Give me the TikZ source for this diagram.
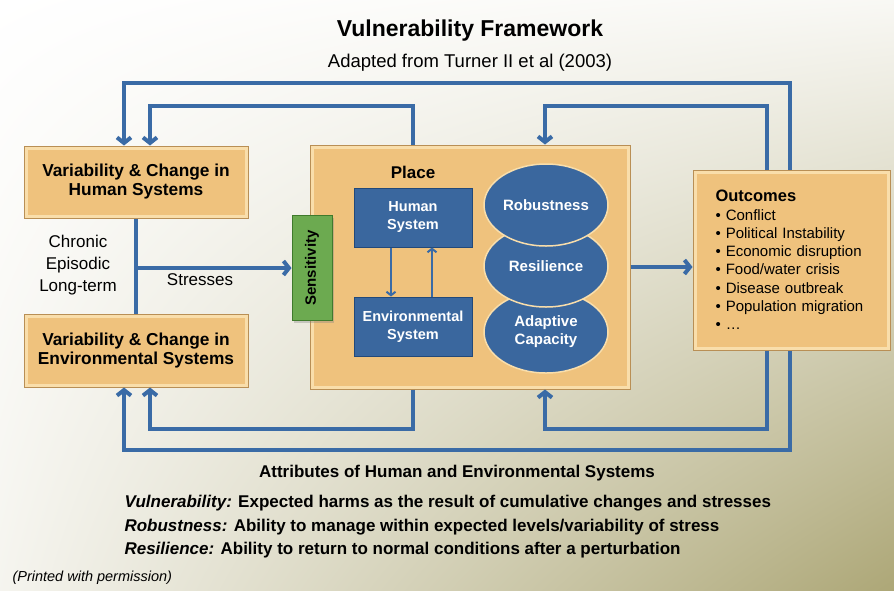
\documentclass[tikz,border=0pt]{standalone}
\usepackage{fontspec}
\setmainfont{Liberation Sans}
\usetikzlibrary{arrows.meta,shapes.geometric,shadows,shadings}

\definecolor{tanfill}{HTML}{EFC27D}
\definecolor{tanlight}{HTML}{F9DEAB}
\definecolor{tandark}{HTML}{B98F55}
\definecolor{flowblue}{HTML}{3A6BA6}
\definecolor{boxblue}{HTML}{3A679E}
\definecolor{boxedge}{HTML}{22497A}
\definecolor{sensgreen}{HTML}{6CAA50}
\definecolor{sensedge}{HTML}{3F7A2C}
\definecolor{bgolive}{HTML}{ADA777}

\begin{document}
\begin{tikzpicture}[x=1pt, y=-1pt,
    tanbox/.style={drop shadow={shadow xshift=2pt, shadow yshift=-2pt, opacity=.35},
      preaction={draw=tandark, line width=5pt},
      fill=tanfill, draw=tanlight, line width=3pt,
      outer sep=2.5pt, inner sep=0pt, align=center},
    bluebox/.style={fill=boxblue, draw=boxedge, line width=1pt, text=white,
      minimum width=118, minimum height=59, inner sep=0pt, align=center,
      font=\bfseries\fontsize{14.5}{18}\selectfont},
    oval/.style={ellipse, fill=boxblue, draw=tanlight, line width=1.5pt, text=white,
      minimum width=124, minimum height=82, inner sep=0pt, align=center,
      font=\bfseries\fontsize{15}{18}\selectfont},
    sensbox/.style={fill=sensgreen, draw=sensedge, line width=1pt,
      drop shadow={shadow xshift=2pt, shadow yshift=-2pt, opacity=.35},
      minimum width=105, minimum height=40, inner sep=0pt,
      font=\bfseries\fontsize{15}{17}\selectfont},
    flow/.style={draw=flowblue, line width=4pt},
    tip/.style={-{Straight Barb[length=5.5pt,width=14pt]}},
    thinflow/.style={draw=flowblue, line width=2pt, -{Straight Barb[length=3.5pt,width=9pt]}}]

  % background
  \shade[upper left=white, upper right=white!92!bgolive, lower left=white!88!bgolive,
    lower right=bgolive] (0,0) rectangle (894,590);
  \useasboundingbox (0,0) rectangle (894,590);

  \node[font=\bfseries\fontsize{23}{27}\selectfont] (title) at (470,31) {Vulnerability Framework};
  \node[font=\fontsize{18.5}{22}\selectfont] (source) at (470,63) {Adapted from Turner II et al (2003)};

  % left boxes
  \node[tanbox, minimum width=220, minimum height=68, font=\bfseries\fontsize{17.3}{19}\selectfont]
    (humvar) at (136,182) {Variability \& Change in\\Human Systems};
  \node[tanbox, minimum width=220, minimum height=69, font=\bfseries\fontsize{17.3}{19}\selectfont]
    (envvar) at (136,350.5) {Variability \& Change in\\Environmental Systems};
  \node[align=center, font=\fontsize{17}{22}\selectfont] (kinds) at (78,265) {Chronic\\Episodic\\Long-term};
  \node[font=\fontsize{17}{20}\selectfont] (stresses) at (200,280) {Stresses};

  % place
  \node[tanbox, minimum width=316, minimum height=240] (place) at (470,267) {};
  \node[font=\bfseries\fontsize{17}{20}\selectfont] (placelabel) at (413,172) {Place};
  \node[bluebox] (humsys) at (413,217.5) {Human\\System};
  \node[bluebox] (envsys) at (413,326.5) {Environmental\\System};
  \node[oval] (adapt) at (546,332) {Adaptive\\Capacity};
  \node[oval] (resil) at (546,266) {Resilience};
  \node[oval] (robust) at (546,205) {Robustness};
  \node[sensbox, rotate=90] (sens) at (312,268) {Sensitivity};

  % outcomes
  \node[tanbox, minimum width=193, minimum height=176, text width=152, align=left,
    font=\fontsize{15}{18.3}\selectfont] (outcomes) at (791.5,260)
    {{\bfseries\fontsize{16.5}{19}\selectfont Outcomes}\\
     • Conflict\\
     • Political Instability\\
     • Economic disruption\\
     • Food/water crisis\\
     • Disease outbreak\\
     • Population migration\\
     • …};

  % connectors
  \draw[flow] (humvar.south) -- (envvar.north);
  \draw[flow, tip] (humvar.south |- sens) -- (sens);
  \draw[flow, tip] (place.east) -- (outcomes.west |- place.east);
  \draw[thinflow] ([xshift=-22pt]humsys.south) -- ([xshift=-22pt]envsys.north);
  \draw[thinflow] ([xshift=19pt]envsys.north) -- ([xshift=19pt]humsys.south);

  % feedback loops
  \draw[flow, tip] ([xshift=-1.5pt]outcomes.north) -- ++(0,-86.5) -| ([xshift=-12pt]humvar.north);
  \draw[flow, tip] ([xshift=-24.5pt]outcomes.north) -- ++(0,-63.5) -| ([xshift=75pt]place.north);
  \draw[flow, tip] ([xshift=-57pt]place.north) -- ++(0,-38.5) -| ([xshift=14pt]humvar.north);
  \draw[flow, tip] ([xshift=-1.5pt]outcomes.south) -- ++(0,99.5) -| ([xshift=-12pt]envvar.south);
  \draw[flow, tip] ([xshift=-24.5pt]outcomes.south) -- ++(0,78.5) -| ([xshift=75pt]place.south);
  \draw[flow, tip] ([xshift=-57pt]place.south) -- ++(0,39.5) -| ([xshift=14pt]envvar.south);

  % definitions
  \node[font=\bfseries\fontsize{17}{20}\selectfont] (attrs) at (457,473)
    {Attributes of Human and Environmental Systems};
  \node[anchor=west, font=\bfseries\fontsize{17}{20}\selectfont] (vulndef) at (121,503)
    {\textit{Vulnerability:} Expected harms as the result of cumulative changes and stresses};
  \node[anchor=west, font=\bfseries\fontsize{17}{20}\selectfont] (robustdef) at (121,527)
    {\textit{Robustness:} Ability to manage within expected levels/variability of stress};
  \node[anchor=west, font=\bfseries\fontsize{17}{20}\selectfont] (resildef) at (121,550)
    {\textit{Resilience:} Ability to return to normal conditions after a perturbation};
  \node[anchor=west, font=\itshape\fontsize{14.5}{17}\selectfont] (permission) at (9,578)
    {(Printed with permission)};
\end{tikzpicture}
\end{document}
